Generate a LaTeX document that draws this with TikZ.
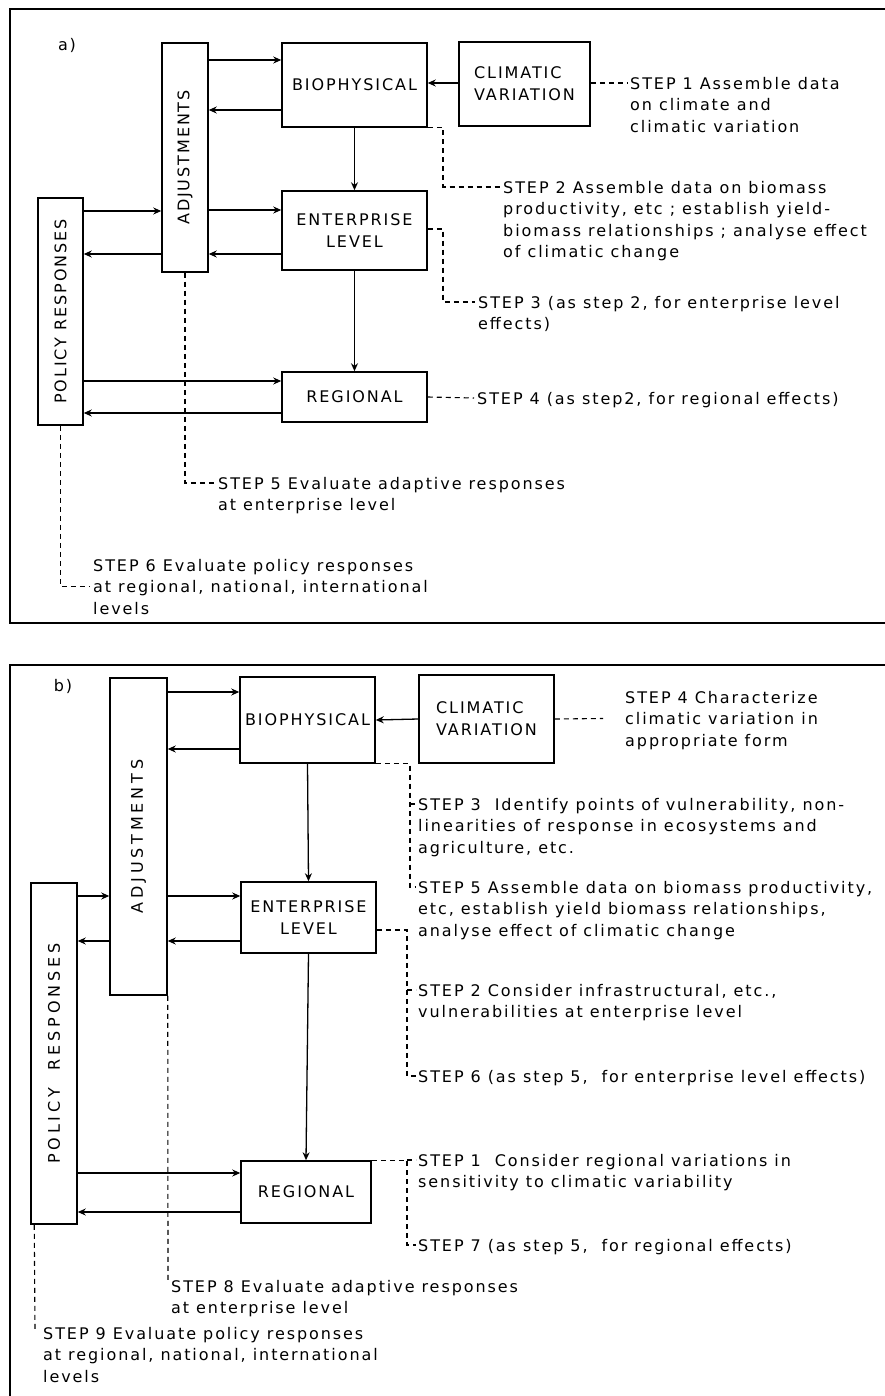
\documentclass[tikz,border=0pt]{standalone}
\usepackage{fontspec}
\setmainfont[LetterSpace=12]{DejaVu Sans}
\newfontfamily\widefont[LetterSpace=24]{DejaVu Sans}
\usetikzlibrary{arrows.meta}

\newcommand{\lblfont}{\fontsize{16}{22}\selectfont}
\newcommand{\txtfont}{\fontsize{16}{21.5}\selectfont}

\begin{document}
\begin{tikzpicture}[x=1pt,y=-1pt,
  frame/.style={line width=1.6pt},
  box/.style={draw, line width=1.5pt, inner sep=0pt, font=\lblfont, align=center},
  conn/.style={line width=1.3pt, -{Stealth[length=8pt,width=7pt]}},
  lead/.style={line width=1.1pt, dash pattern=on 5pt off 4pt},
  steptext/.style={anchor=north west, inner sep=0pt, align=left, font=\txtfont},
  tag/.style={inner sep=0pt, font=\txtfont}]
\useasboundingbox (0,0) rectangle (885,1396);

% ---------------- panel a ----------------
\draw[frame] (885,9) -- (10,9) -- (10,623) -- (885,623);
\node[tag] (taga) at (67,45) {a)};

\node[box, minimum width=46, minimum height=229] (adjA) at (185,157.5) {\rotatebox{90}{ADJUSTMENTS}};
\node[box, minimum width=145, minimum height=84] (bioA) at (354.5,85) {BIOPHYSICAL};
\node[box, minimum width=145, minimum height=79] (entA) at (354.5,230.5) {ENTERPRISE\\LEVEL};
\node[box, minimum width=45, minimum height=227] (polA) at (60.5,311.5) {\rotatebox{90}{POLICY RESPONSES}};
\node[box, minimum width=145, minimum height=50] (regA) at (354.5,397) {REGIONAL};
\node[box, minimum width=131, minimum height=84, align=left] (climA) at (524.5,84) {CLIMATIC\\VARIATION};

\draw[conn] (adjA.east |- 0,60) -- (bioA.west |- 0,60);
\draw[conn] (bioA.west |- 0,110) -- (adjA.east |- 0,110);
\draw[conn] (climA.west |- 0,83) -- (bioA.east |- 0,83);
\draw[conn] (bioA.south) -- (entA.north);
\draw[conn] (polA.east |- 0,211) -- (adjA.west |- 0,211);
\draw[conn] (adjA.east |- 0,210) -- (entA.west |- 0,210);
\draw[conn] (adjA.west |- 0,254) -- (polA.east |- 0,254);
\draw[conn] (entA.west |- 0,254) -- (adjA.east |- 0,254);
\draw[conn] (entA.south) -- (regA.north);
\draw[conn] (polA.east |- 0,381) -- (regA.west |- 0,381);
\draw[conn] (regA.west |- 0,413) -- (polA.east |- 0,413);

\node[steptext] (s1a) at (630,77) {STEP 1 Assemble data\\on climate and\\climatic variation};
\node[steptext] (s2a) at (503,181) {STEP 2 Assemble data on biomass\\productivity, etc ; establish yield-\\biomass relationships ; analyse effect\\of climatic change};
\node[steptext] (s3a) at (478,296) {STEP 3 (as step 2, for enterprise level\\effects)};
\node[steptext] (s4a) at (477,392) {STEP 4 (as step2, for regional effects)};
\node[steptext] (s5a) at (218,477) {STEP 5 Evaluate adaptive responses\\at enterprise level};
\node[steptext] (s6a) at (93,559) {STEP 6 Evaluate policy responses\\at regional, national, international\\levels};

\draw[lead] (climA.east |- 0,83) -- ([xshift=-3pt,yshift=-6pt]s1a.north west);
\draw[lead] (bioA.south east) -| ([xshift=-60pt,yshift=-6pt]s2a.north west) -- ([xshift=-3pt,yshift=-6pt]s2a.north west);
\draw[lead] (entA.east |- 0,229) -| ([xshift=-35pt,yshift=-6pt]s3a.north west) -- ([xshift=-3pt,yshift=-6pt]s3a.north west);
\draw[lead] (regA.east) -- ([xshift=-3pt,yshift=-6pt]s4a.north west);
\draw[lead] (adjA.south) |- ([xshift=-3pt,yshift=-6pt]s5a.north west);
\draw[lead] (polA.south) |- ([xshift=-3pt,yshift=-27.5pt]s6a.north west);

% ---------------- panel b ----------------
\draw[frame] (885,665) -- (10,665) -- (10,1396);
\node[tag] (tagb) at (63,686) {b)};

\node[box, minimum width=57, minimum height=317] (adjB) at (138.5,836.5) {\rotatebox{90}{\widefont ADJUSTMENTS}};
\node[box, minimum width=135, minimum height=86] (bioB) at (307.5,720) {BIOPHYSICAL};
\node[box, minimum width=135, minimum height=71] (entB) at (308.5,917.5) {ENTERPRISE\\LEVEL};
\node[box, minimum width=46, minimum height=341] (polB) at (54,1053.5) {\rotatebox{90}{\widefont POLICY \ RESPONSES}};
\node[box, minimum width=130, minimum height=62] (regB) at (306,1192) {REGIONAL};
\node[box, minimum width=135, minimum height=88, align=left] (climB) at (486.5,719) {CLIMATIC\\VARIATION};

\draw[conn] (adjB.east |- 0,692) -- (bioB.west |- 0,692);
\draw[conn] (bioB.west |- 0,749) -- (adjB.east |- 0,749);
\draw[conn] (climB.west) -- (bioB.east);
\draw[conn] (bioB.south) -- (entB.north);
\draw[conn] (polB.east |- 0,896) -- (adjB.west |- 0,896);
\draw[conn] (adjB.east |- 0,896) -- (entB.west |- 0,896);
\draw[conn] (adjB.west |- 0,941) -- (polB.east |- 0,941);
\draw[conn] (entB.west |- 0,941) -- (adjB.east |- 0,941);
\draw[conn] (entB.south) -- (regB.north);
\draw[conn] (polB.east |- 0,1173) -- (regB.west |- 0,1173);
\draw[conn] (regB.west |- 0,1212) -- (polB.east |- 0,1212);

\node[steptext] (s4b) at (625,691) {STEP 4 Characterize\\climatic variation in\\appropriate form};
\node[steptext] (s3b) at (418,798) {STEP 3 \ Identify points of vulnerability, non-\\linearities of response in ecosystems and\\agriculture, etc.};
\node[steptext] (s5b) at (418,881) {STEP 5 Assemble data on biomass productivity,\\etc, establish yield biomass relationships,\\analyse effect of climatic change};
\node[steptext] (s2b) at (418,984) {STEP 2 Consider infrastructural, etc.,\\vulnerabilities at enterprise level};
\node[steptext] (s6b) at (418,1070) {STEP 6 (as step 5, \ for enterprise level effects)};
\node[steptext] (s1b) at (418,1154) {STEP 1 \ Consider regional variations in\\sensitivity to climatic variability};
\node[steptext] (s7b) at (418,1239) {STEP 7 (as step 5, \ for regional effects)};
\node[steptext] (s8b) at (171,1280) {STEP 8 Evaluate adaptive responses\\at enterprise level};
\node[steptext] (s9b) at (43,1327) {STEP 9 Evaluate policy responses\\at regional, national, international\\levels};

\draw[lead] (climB.east) -- ([xshift=-22pt,yshift=-27.5pt]s4b.north west);
\draw[lead] (bioB.south east) -| ([xshift=-8pt,yshift=-6pt]s5b.north west) -- ([xshift=-2pt,yshift=-6pt]s5b.north west);
\draw[lead] ([xshift=-8pt,yshift=-6pt]s3b.north west) -- ([xshift=-2pt,yshift=-6pt]s3b.north west);
\draw[lead] (entB.east |- 0,930) -| ([xshift=-11pt,yshift=-6pt]s6b.north west) -- ([xshift=-2pt,yshift=-6pt]s6b.north west);
\draw[lead] ([xshift=-11pt,yshift=-6pt]s2b.north west) -- ([xshift=-2pt,yshift=-6pt]s2b.north west);
\draw[lead] (regB.north east) -| ([xshift=-11pt,yshift=-6pt]s7b.north west) -- ([xshift=-2pt,yshift=-6pt]s7b.north west);
\draw[lead] ([xshift=-11pt,yshift=-6pt]s1b.north west) -- ([xshift=-2pt,yshift=-6pt]s1b.north west);
\draw[lead] (adjB.south east) -- ([xshift=-3pt]s8b.north west);
\draw[lead] ([xshift=4pt]polB.south west) -- ([xshift=-8pt,yshift=-3pt]s9b.north west);
\end{tikzpicture}
\end{document}
